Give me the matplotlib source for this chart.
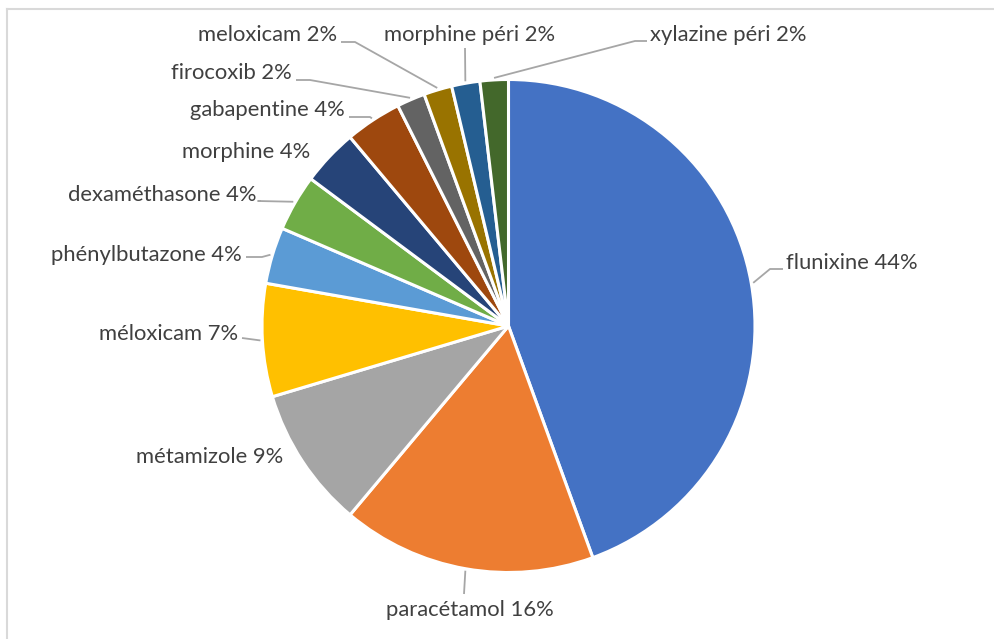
import numpy as np
import matplotlib.pyplot as plt

# slices, clockwise from 12 o'clock
drugs = ['flunixine', 'paracétamol', 'métamizole', 'méloxicam', 'phénylbutazone',
         'dexaméthasone', 'morphine', 'gabapentine', 'firocoxib', 'meloxicam',
         'morphine péri', 'xylazine péri']
counts = [24, 9, 5, 4, 2, 2, 2, 2, 1, 1, 1, 1]
pct_labels = [44, 16, 9, 7, 4, 4, 4, 4, 2, 2, 2, 2]

colors = ['#4472C4', '#ED7D31', '#A5A5A5', '#FFC000', '#5B9BD5', '#70AD47',
          '#264478', '#9E480E', '#636363', '#997300', '#255E91', '#43682B']

W, H = 995, 639
CX, CY, R = 508.5, 326, 246.5

#label layout in pixel coords (top-left origin): text x, text y, ha, elbow point or None
layout = [
    (786, 263, 'left', (770, 269)),
    (470, 610, 'center', (464, 594)),
    (283, 457, 'right', None),
    (238, 334, 'right', (242, 338)),
    (242, 255, 'right', (262, 257)),
    (257, 195, 'right', (258, 201)),
    (310, 152, 'right', None),
    (345, 110, 'right', (370, 117)),
    (292, 73, 'right', (310, 80)),
    (337, 35, 'right', (355, 42)),
    (470, 35, 'center', (465, 48)),
    (650, 35, 'left', (635, 41)),
]


def px(x, y):
    return x, H - y


fig = plt.figure(figsize=(W / 100, H / 100), dpi=100)
ax = fig.add_axes([0, 0, 1, 1])

wedges, _ = ax.pie(counts, colors=colors, startangle=90, counterclock=False,
                   center=px(CX, CY), radius=R,
                   wedgeprops=dict(edgecolor='white', linewidth=2.2))
ax.set_xlim(0, W)
ax.set_ylim(0, H)
ax.set_aspect('equal')
ax.axis('off')

for w, name, p, (tx, ty, ha, elbow) in zip(wedges, drugs, pct_labels, layout):
    mid = np.deg2rad((w.theta1 + w.theta2) / 2)
    ax.text(*px(tx, ty), f'{name} {p}%', ha=ha, va='center', fontsize=15.8,
            family='Lato', color='#404040')
    if elbow is None:
        continue
    ax_, ay_ = CX + (R + 2) * np.cos(mid), CY - (R + 2) * np.sin(mid)
    ex, ey = elbow
    if ha == 'left':
        end = (tx - 3, ey)
    elif ha == 'right':
        end = (tx + 4, ey)
    else:
        end = (ex, ey)
    xs = [ax_, ex, end[0]]
    ys = [H - ay_, H - ey, H - end[1]]
    ax.plot(xs, ys, color='#A6A6A6', lw=1.3, solid_capstyle='butt')

# chart frame (only top and left visible)
fig.add_artist(plt.Line2D([7.5 / W, 7.5 / W], [0, 1 - 8.5 / H], color='#D9D9D9', lw=1.5))
fig.add_artist(plt.Line2D([7.5 / W, 1], [1 - 8.5 / H, 1 - 8.5 / H], color='#D9D9D9', lw=1.5))

fig.savefig('out.png', dpi=100, facecolor='white')
